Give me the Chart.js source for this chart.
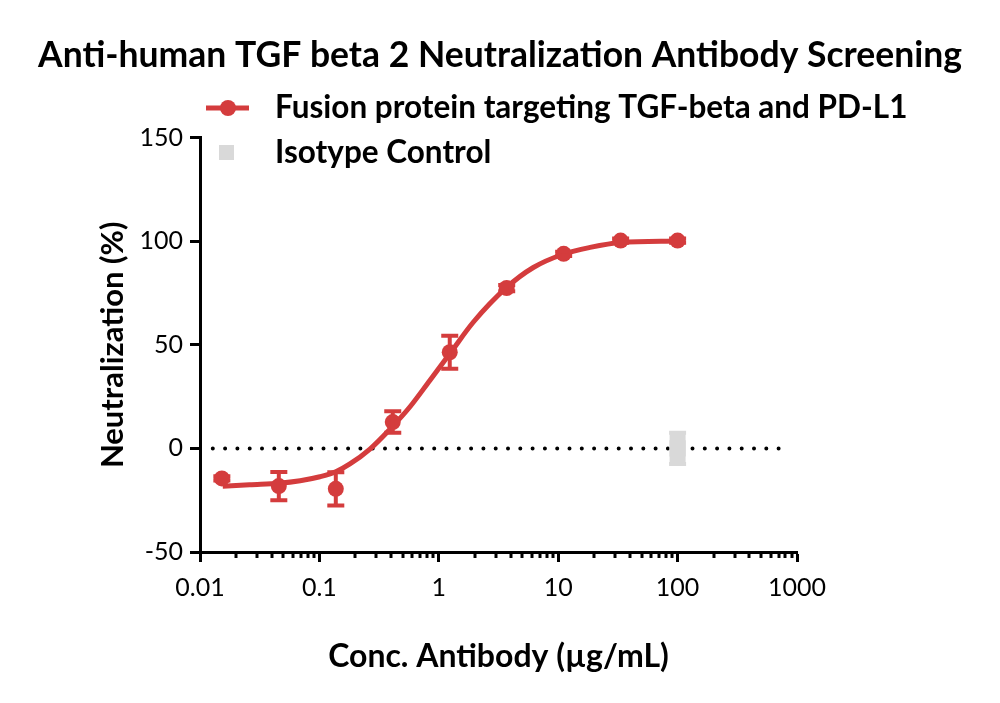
<!DOCTYPE html>
<html>
<head>
<meta charset="utf-8">
<script src="https://cdn.jsdelivr.net/npm/chart.js@4/dist/chart.umd.min.js"></script>
<style>
  html, body { margin: 0; padding: 0; background: #fff; }
  #wrap { width: 1000px; height: 703px; }
</style>
</head>
<body>
<div id="wrap"><canvas id="chart" width="1000" height="703"></canvas></div>
<script>
// measured points (3-fold dilution series), mean and error (%)
const concentrations = [0.01524, 0.04572, 0.1372, 0.4115, 1.235, 3.704, 11.11, 33.33, 100];
const fusionMeans = [-14.5, -18.2, -19.5, 12.7, 46.4, 77.4, 93.9, 100.3, 100.3];
const fusionErrors = [1, 6.8, 8, 5.2, 8, 1.5, 1, 1, 1];

// fitted curve
const fitConc = [0.0155, 0.026, 0.0457, 0.069, 0.101, 0.137, 0.18, 0.265, 0.39, 0.574, 0.844, 1.24, 1.95, 3.7, 6.19, 11.0, 18.5, 33.3, 100];
const fitValues = [-18.3, -17.5, -16.8, -15.6, -13.7, -11.3, -7.5, -0.3, 9.3, 20.1, 32.9, 45.8, 61, 77.7, 87.3, 93.7, 97, 99.4, 100.1];

const isotypeConc = [100];
const isotypeMeans = [0];
const isotypeErrors = [7.5];

// dotted reference line at 0 %
const refLineConc = [0.0128, 825];
const refLineValues = [0, 0];

const xTickValues = [0.01, 0.1, 1, 10, 100, 1000];
const xTickLabels = ['0.01', '0.1', '1', '10', '100', '1000'];
const yTickValues = [-50, 0, 50, 100, 150];

const RED = '#d43c3d';
const GREY = '#d9d9d9';
const FONT = 'Lato';

const toPoints = (xs, ys) => xs.map((x, i) => ({ x, y: ys[i] }));

const errorBarPlugin = {
  id: 'errorBars',
  afterDatasetsDraw(chart) {
    const { ctx, scales: { x, y } } = chart;
    chart.data.datasets.forEach((ds) => {
      if (!ds.errors) return;
      ctx.save();
      ctx.strokeStyle = ds.borderColor;
      ds.data.forEach((pt, i) => {
        const px = x.getPixelForValue(pt.x);
        const top = y.getPixelForValue(pt.y + ds.errors[i]);
        const bottom = y.getPixelForValue(pt.y - ds.errors[i]);
        ctx.lineWidth = ds.errorWidth;
        ctx.beginPath();
        ctx.moveTo(px, top);
        ctx.lineTo(px, bottom);
        ctx.stroke();
        ctx.lineWidth = 4;
        ctx.beginPath();
        ctx.moveTo(px - 8.5, top);
        ctx.lineTo(px + 8.5, top);
        ctx.moveTo(px - 8.5, bottom);
        ctx.lineTo(px + 8.5, bottom);
        ctx.stroke();
      });
      ctx.restore();
    });
  },
};

const minorTickPlugin = {
  id: 'minorTicks',
  afterDraw(chart) {
    const { ctx, scales: { x } } = chart;
    ctx.save();
    ctx.strokeStyle = '#000';
    ctx.lineWidth = 3;
    for (let d = 0; d < xTickValues.length - 1; d++) {
      for (let k = 2; k <= 9; k++) {
        const px = Math.round(x.getPixelForValue(xTickValues[d] * k));
        ctx.beginPath();
        ctx.moveTo(px, x.top);
        ctx.lineTo(px, x.top + 6);
        ctx.stroke();
      }
    }
    ctx.restore();
  },
};

const legendPlugin = {
  id: 'sideLegend',
  afterDraw(chart) {
    const { ctx } = chart;
    const fusion = chart.data.datasets[0];
    const iso = chart.data.datasets[2];
    ctx.save();
    ctx.font = `bold 31.5px ${FONT}`;
    ctx.textBaseline = 'middle';

    ctx.strokeStyle = fusion.borderColor;
    ctx.lineWidth = 5;
    ctx.beginPath();
    ctx.moveTo(206, 108);
    ctx.lineTo(249, 108);
    ctx.stroke();
    ctx.fillStyle = fusion.backgroundColor;
    ctx.beginPath();
    ctx.arc(228, 108, 8, 0, Math.PI * 2);
    ctx.fill();
    ctx.fillStyle = '#000';
    ctx.fillText(fusion.label, 275, 108);

    ctx.fillStyle = iso.backgroundColor;
    ctx.fillRect(219, 145, 15, 15);
    ctx.fillStyle = '#000';
    ctx.fillText(iso.label, 275, 153);
    ctx.restore();
  },
};

new Chart(document.getElementById('chart'), {
  type: 'scatter',
  data: {
    datasets: [
      {
        label: 'Fusion protein targeting TGF-beta and PD-L1',
        data: toPoints(concentrations, fusionMeans),
        errors: fusionErrors,
        errorWidth: 4,
        backgroundColor: RED,
        borderColor: RED,
        pointRadius: 8,
        pointBorderWidth: 0,
        showLine: false,
        order: 1,
      },
      {
        label: 'Fit',
        data: toPoints(fitConc, fitValues),
        borderColor: RED,
        borderWidth: 5,
        pointRadius: 0,
        showLine: true,
        cubicInterpolationMode: 'monotone',
        order: 2,
      },
      {
        label: 'Isotype Control',
        data: toPoints(isotypeConc, isotypeMeans),
        errors: isotypeErrors,
        errorWidth: 16,
        backgroundColor: GREY,
        borderColor: GREY,
        pointStyle: 'rect',
        pointRadius: 11.5,
        pointBorderWidth: 0,
        showLine: false,
        order: 1,
      },
      {
        label: 'Zero',
        data: toPoints(refLineConc, refLineValues),
        borderColor: '#000',
        borderWidth: 4,
        borderDash: [0, 12.3],
        borderCapStyle: 'round',
        pointRadius: 0,
        showLine: true,
        order: 3,
      },
    ],
  },
  options: {
    responsive: false,
    animation: false,
    layout: { padding: 0 },
    plugins: {
      legend: { display: false },
      tooltip: { enabled: false },
      title: {
        display: true,
        text: 'Anti-human TGF beta 2 Neutralization Antibody Screening',
        color: '#000',
        font: { family: FONT, size: 35.5, weight: 'bold', lineHeight: 1.2 },
        padding: { top: 34, bottom: 61 },
      },
    },
    scales: {
      x: {
        type: 'logarithmic',
        min: 0.01,
        max: 1000,
        afterBuildTicks: (s) => { s.ticks = xTickValues.map((v) => ({ value: v })); },
        afterFit: (s) => { s.height = 151; },
        ticks: {
          callback: (v, i) => xTickLabels[i],
          color: '#000',
          font: { family: FONT, size: 25 },
          padding: 11,
          autoSkip: false,
          maxRotation: 0,
        },
        grid: { drawOnChartArea: false, tickLength: 10, tickWidth: 3, tickColor: '#000' },
        border: { color: '#000', width: 3 },
        title: {
          display: true,
          text: 'Conc. Antibody (µg/mL)',
          color: '#000',
          font: { family: FONT, size: 32, weight: 'bold', lineHeight: 1.2 },
          padding: { top: 0, bottom: 27 },
        },
      },
      y: {
        min: -50,
        max: 150,
        afterBuildTicks: (s) => { s.ticks = yTickValues.map((v) => ({ value: v })); },
        afterFit: (s) => { s.width = 200; },
        ticks: {
          color: '#000',
          font: { family: FONT, size: 25 },
          padding: 7,
        },
        grid: { drawOnChartArea: false, tickLength: 10, tickWidth: 3, tickColor: '#000' },
        border: { color: '#000', width: 3 },
        title: {
          display: true,
          text: 'Neutralization (%)',
          color: '#000',
          font: { family: FONT, size: 31, weight: 'bold', lineHeight: 1.2 },
          padding: { top: 94, bottom: 0 },
        },
      },
      // empty right-hand box so the plot ends where the reference's does
      spacer: {
        position: 'right',
        display: true,
        afterFit: (s) => { s.width = 203; },
        ticks: { display: false },
        grid: { display: false },
        border: { display: false },
      },
    },
  },
  plugins: [errorBarPlugin, minorTickPlugin, legendPlugin],
});
</script>
</body>
</html>
